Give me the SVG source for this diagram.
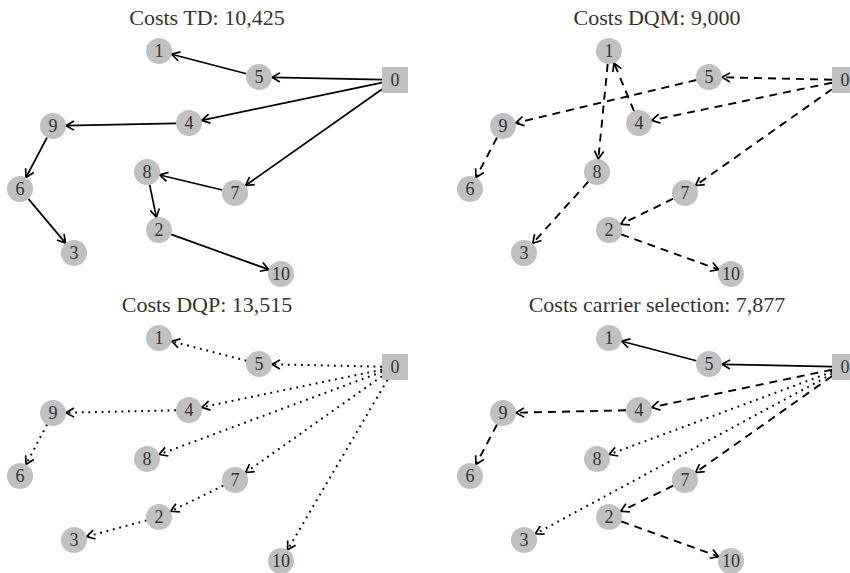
<svg xmlns="http://www.w3.org/2000/svg" width="850" height="573" viewBox="0 0 850 573">
<style>
.title{font-family:"Liberation Serif","Times New Roman",serif;font-size:22px;fill:#333;text-anchor:middle}
.lbl{font-family:"Liberation Serif","Times New Roman",serif;font-size:18px;fill:#333;text-anchor:middle}
.nd{fill:#c0c0c0}
.e{fill:none;stroke:#000;marker-end:url(#arr)}
.s{stroke-width:1.7}
.d{stroke-width:1.9;stroke-dasharray:8 6}
.o{stroke-width:2;stroke-dasharray:1.8 4.8}
</style>
<defs>
<marker id="arr" markerUnits="userSpaceOnUse" markerWidth="20" markerHeight="20" refX="0" refY="0" viewBox="-10 -10 20 20" orient="auto" overflow="visible">
<path d="M-8,-4.6 L0,0 L-8,4.6" fill="none" stroke="#000" stroke-width="1.7"/>
</marker>
</defs>
<rect width="850" height="573" fill="#fff"/>

<!-- Panel TD -->
<g id="panel-td">
<text class="title" x="207" y="25">Costs TD: 10,425</text>
<g id="td-edges">
<path class="e s" d="M382,79.7 L272,77.3"/>
<path class="e s" d="M246.4,73.7 L171.6,54.3"/>
<path class="e s" d="M382,82.7 L201.7,120.3"/>
<path class="e s" d="M176,123.3 L66,125.7"/>
<path class="e s" d="M47,137.5 L26,177.5"/>
<path class="e s" d="M28.4,198.9 L65.6,243.1"/>
<path class="e s" d="M382,89.2 L245.6,185.5"/>
<path class="e s" d="M222.4,190 L159.7,175"/>
<path class="e s" d="M149.6,184.7 L156.4,217.3"/>
<path class="e s" d="M171.2,234.4 L268.8,269.6"/>
</g>
<g id="td-n0"><rect class="nd" x="382" y="67" width="26" height="26"/><text class="lbl" x="395" y="86">0</text></g>
<g id="td-n1"><circle class="nd" cx="159" cy="51" r="13"/><text class="lbl" x="159" y="57">1</text></g>
<g id="td-n2"><circle class="nd" cx="159" cy="230" r="13"/><text class="lbl" x="159" y="236">2</text></g>
<g id="td-n3"><circle class="nd" cx="74" cy="253" r="13"/><text class="lbl" x="74" y="259">3</text></g>
<g id="td-n4"><circle class="nd" cx="189" cy="123" r="13"/><text class="lbl" x="189" y="129">4</text></g>
<g id="td-n5"><circle class="nd" cx="259" cy="77" r="13"/><text class="lbl" x="259" y="83">5</text></g>
<g id="td-n6"><circle class="nd" cx="20" cy="189" r="13"/><text class="lbl" x="20" y="195">6</text></g>
<g id="td-n7"><circle class="nd" cx="235" cy="193" r="13"/><text class="lbl" x="235" y="199">7</text></g>
<g id="td-n8"><circle class="nd" cx="147" cy="172" r="13"/><text class="lbl" x="147" y="178">8</text></g>
<g id="td-n9"><circle class="nd" cx="53" cy="126" r="13"/><text class="lbl" x="53" y="132">9</text></g>
<g id="td-n10"><circle class="nd" cx="281" cy="274" r="13"/><text class="lbl" x="281" y="280">10</text></g>
</g>

<!-- Panel DQM -->
<g id="panel-dqm" transform="translate(450,0)">
<text class="title" x="207" y="25">Costs DQM: 9,000</text>
<g id="dqm-edges">
<path class="e d" d="M382,79.7 L272,77.3"/>
<path class="e d" d="M246.4,80 L65.7,123"/>
<path class="e d" d="M382,82.7 L201.7,120.3"/>
<path class="e d" d="M184,111 L164,63"/>
<path class="e d" d="M157.7,63.9 L148.3,159.1"/>
<path class="e d" d="M138.3,181.7 L82.7,243.3"/>
<path class="e d" d="M47,137.5 L26,177.5"/>
<path class="e d" d="M382,89.2 L245.6,185.5"/>
<path class="e d" d="M223.3,198.7 L170.7,224.3"/>
<path class="e d" d="M171.2,234.4 L268.8,269.6"/>
</g>
<g id="dqm-n0"><rect class="nd" x="382" y="67" width="26" height="26"/><text class="lbl" x="395" y="86">0</text></g>
<g id="dqm-n1"><circle class="nd" cx="159" cy="51" r="13"/><text class="lbl" x="159" y="57">1</text></g>
<g id="dqm-n2"><circle class="nd" cx="159" cy="230" r="13"/><text class="lbl" x="159" y="236">2</text></g>
<g id="dqm-n3"><circle class="nd" cx="74" cy="253" r="13"/><text class="lbl" x="74" y="259">3</text></g>
<g id="dqm-n4"><circle class="nd" cx="189" cy="123" r="13"/><text class="lbl" x="189" y="129">4</text></g>
<g id="dqm-n5"><circle class="nd" cx="259" cy="77" r="13"/><text class="lbl" x="259" y="83">5</text></g>
<g id="dqm-n6"><circle class="nd" cx="20" cy="189" r="13"/><text class="lbl" x="20" y="195">6</text></g>
<g id="dqm-n7"><circle class="nd" cx="235" cy="193" r="13"/><text class="lbl" x="235" y="199">7</text></g>
<g id="dqm-n8"><circle class="nd" cx="147" cy="172" r="13"/><text class="lbl" x="147" y="178">8</text></g>
<g id="dqm-n9"><circle class="nd" cx="53" cy="126" r="13"/><text class="lbl" x="53" y="132">9</text></g>
<g id="dqm-n10"><circle class="nd" cx="281" cy="274" r="13"/><text class="lbl" x="281" y="280">10</text></g>
</g>

<!-- Panel DQP -->
<g id="panel-dqp" transform="translate(0,287)">
<text class="title" x="207" y="25">Costs DQP: 13,515</text>
<g id="dqp-edges">
<path class="e o" d="M382,79.7 L272,77.3"/>
<path class="e o" d="M246.4,73.7 L171.6,54.3"/>
<path class="e o" d="M382,82.7 L201.7,120.3"/>
<path class="e o" d="M176,123.3 L66,125.7"/>
<path class="e o" d="M47,137.5 L26,177.5"/>
<path class="e o" d="M382,84.8 L159.2,167.5"/>
<path class="e o" d="M382,89.2 L245.6,185.5"/>
<path class="e o" d="M223.3,198.7 L170.7,224.3"/>
<path class="e o" d="M146.5,233.4 L86.6,249.6"/>
<path class="e o" d="M387.4,93 L287.6,262.8"/>
</g>
<g id="dqp-n0"><rect class="nd" x="382" y="67" width="26" height="26"/><text class="lbl" x="395" y="86">0</text></g>
<g id="dqp-n1"><circle class="nd" cx="159" cy="51" r="13"/><text class="lbl" x="159" y="57">1</text></g>
<g id="dqp-n2"><circle class="nd" cx="159" cy="230" r="13"/><text class="lbl" x="159" y="236">2</text></g>
<g id="dqp-n3"><circle class="nd" cx="74" cy="253" r="13"/><text class="lbl" x="74" y="259">3</text></g>
<g id="dqp-n4"><circle class="nd" cx="189" cy="123" r="13"/><text class="lbl" x="189" y="129">4</text></g>
<g id="dqp-n5"><circle class="nd" cx="259" cy="77" r="13"/><text class="lbl" x="259" y="83">5</text></g>
<g id="dqp-n6"><circle class="nd" cx="20" cy="189" r="13"/><text class="lbl" x="20" y="195">6</text></g>
<g id="dqp-n7"><circle class="nd" cx="235" cy="193" r="13"/><text class="lbl" x="235" y="199">7</text></g>
<g id="dqp-n8"><circle class="nd" cx="147" cy="172" r="13"/><text class="lbl" x="147" y="178">8</text></g>
<g id="dqp-n9"><circle class="nd" cx="53" cy="126" r="13"/><text class="lbl" x="53" y="132">9</text></g>
<g id="dqp-n10"><circle class="nd" cx="281" cy="274" r="13"/><text class="lbl" x="281" y="280">10</text></g>
</g>

<!-- Panel carrier selection -->
<g id="panel-cs" transform="translate(450,287)">
<text class="title" x="207" y="25">Costs carrier selection: 7,877</text>
<g id="cs-edges">
<path class="e s" d="M382,79.7 L272,77.3"/>
<path class="e s" d="M246.4,73.7 L171.6,54.3"/>
<path class="e d" d="M382,82.7 L201.7,120.3"/>
<path class="e d" d="M176,123.3 L66,125.7"/>
<path class="e d" d="M47,137.5 L26,177.5"/>
<path class="e o" d="M382,84.8 L159.2,167.5"/>
<path class="e d" d="M382,89.2 L245.6,185.5"/>
<path class="e d" d="M223.3,198.7 L170.7,224.3"/>
<path class="e d" d="M171.2,234.4 L268.8,269.6"/>
<path class="e o" d="M382,87 L85.4,246.8"/>
</g>
<g id="cs-n0"><rect class="nd" x="382" y="67" width="26" height="26"/><text class="lbl" x="395" y="86">0</text></g>
<g id="cs-n1"><circle class="nd" cx="159" cy="51" r="13"/><text class="lbl" x="159" y="57">1</text></g>
<g id="cs-n2"><circle class="nd" cx="159" cy="230" r="13"/><text class="lbl" x="159" y="236">2</text></g>
<g id="cs-n3"><circle class="nd" cx="74" cy="253" r="13"/><text class="lbl" x="74" y="259">3</text></g>
<g id="cs-n4"><circle class="nd" cx="189" cy="123" r="13"/><text class="lbl" x="189" y="129">4</text></g>
<g id="cs-n5"><circle class="nd" cx="259" cy="77" r="13"/><text class="lbl" x="259" y="83">5</text></g>
<g id="cs-n6"><circle class="nd" cx="20" cy="189" r="13"/><text class="lbl" x="20" y="195">6</text></g>
<g id="cs-n7"><circle class="nd" cx="235" cy="193" r="13"/><text class="lbl" x="235" y="199">7</text></g>
<g id="cs-n8"><circle class="nd" cx="147" cy="172" r="13"/><text class="lbl" x="147" y="178">8</text></g>
<g id="cs-n9"><circle class="nd" cx="53" cy="126" r="13"/><text class="lbl" x="53" y="132">9</text></g>
<g id="cs-n10"><circle class="nd" cx="281" cy="274" r="13"/><text class="lbl" x="281" y="280">10</text></g>
</g>
</svg>
